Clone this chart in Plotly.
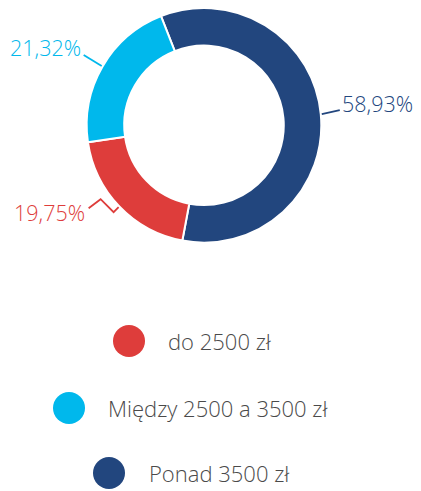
import math
import plotly.graph_objects as go

# page body margin (8px) offsets the figure; size figure to fit the window
OFF = 8
W, H = 421 - OFF, 491 - OFF

# Data
slice_labels = ["Ponad 3500 zł", "do 2500 zł", "Między 2500 a 3500 zł"]
slice_values = [58.93, 19.75, 21.32]
slice_texts = ["58,93%", "19,75%", "21,32%"]
slice_colors = ["#22467E", "#DE3D3B", "#00B8EC"]

legend_labels = ["do 2500 zł", "Między 2500 a 3500 zł", "Ponad 3500 zł"]
legend_colors = ["#DE3D3B", "#00B8EC", "#22467E"]

FONT = "Open Sans"
TEXT_GREY = "#4a4a4a"

# geometry (page pixels)
CX, CY, R = 204, 125.3, 117.3
ROTATION = -21.5


def px(x):
    return (x - OFF) / W


def py(y):
    return 1 - (y - OFF) / H


def clamp(v):
    return max(0.0, min(1.0, v))


fig = go.Figure()
fig.add_trace(go.Pie(
    labels=slice_labels,
    values=slice_values,
    sort=False,
    direction="clockwise",
    rotation=ROTATION,
    hole=0.68,
    textinfo="none",
    hoverinfo="label+percent",
    marker=dict(colors=slice_colors, line=dict(color="white", width=2)),
    domain=dict(x=[clamp(px(CX - R)), clamp(px(CX + R))],
                y=[clamp(py(CY + R)), clamp(py(CY - R))]),
    showlegend=False,
))

# mid-angles of slices (clockwise from 12 o'clock)
total = sum(slice_values)
mids = []
start = ROTATION
for v in slice_values:
    span = v / total * 360
    mids.append(start + span / 2)
    start += span


def tip(angle_deg, r=R + 1):
    a = math.radians(angle_deg)
    return CX + r * math.sin(a), CY - r * math.cos(a)


shapes = []
annotations = []

label_cfg = [
    ([(18, -4)], (340, 103), "left"),
    ([(-5, 5), (-18, -8), (-30, 1)], (87, 213), "right"),
    ([(-18, -11)], (83, 48), "right"),
]
for i, (offs, (tx, ty), xa) in enumerate(label_cfg):
    x0, y0 = tip(mids[i])
    pts = [(x0, y0)] + [(x0 + dx, y0 + dy) for dx, dy in offs]
    path = "M " + " L ".join(f"{px(x)},{py(y)}" for x, y in pts)
    shapes.append(dict(type="path", path=path, xref="paper", yref="paper",
                       line=dict(color=slice_colors[i], width=1.8)))
    annotations.append(dict(
        text=slice_texts[i], x=px(tx), y=py(ty), xref="paper", yref="paper",
        xanchor=xa, yanchor="middle", showarrow=False,
        font=dict(family=FONT, size=21.5, color=slice_colors[i], weight=300),
    ))

legend_rows = [(129, 341, 166), (69, 408, 106), (109, 473, 147)]
for lab, col, (mx, my, tx) in zip(legend_labels, legend_colors, legend_rows):
    rr = 16
    shapes.append(dict(type="circle", xref="paper", yref="paper",
                       x0=px(mx - rr), x1=px(mx + rr), y0=py(my + rr), y1=py(my - rr),
                       fillcolor=col, line=dict(width=0)))
    annotations.append(dict(
        text=lab, x=px(tx), y=py(my), xref="paper", yref="paper",
        xanchor="left", yanchor="middle", showarrow=False,
        font=dict(family=FONT, size=22, color=TEXT_GREY, weight=300),
    ))

fig.update_layout(
    width=W, height=H,
    margin=dict(l=0, r=0, t=0, b=0),
    paper_bgcolor="white", plot_bgcolor="white",
    shapes=shapes, annotations=annotations,
    showlegend=False,
)

fig.write_html("out.html")
